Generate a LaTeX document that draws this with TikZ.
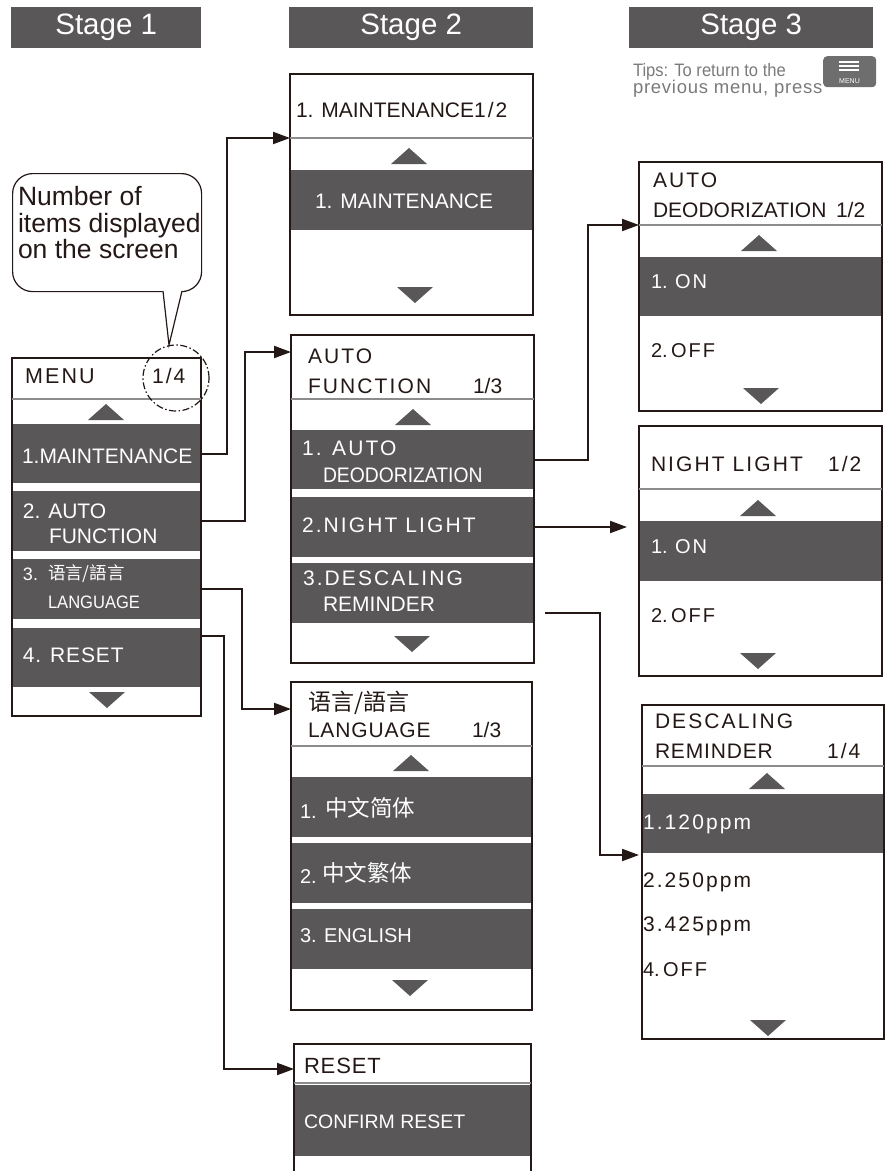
\documentclass[tikz,border=0pt]{standalone}
\usepackage{fontspec}
\setmainfont{Liberation Sans}
\newfontfamily\cjk{Noto Sans CJK SC}
\newfontfamily\spaced[LetterSpace=10]{Liberation Sans}
\newfontfamily\loose[LetterSpace=4]{Liberation Sans}
\newfontfamily\tight[FakeStretch=0.92]{Liberation Sans}
\usetikzlibrary{arrows.meta}
\definecolor{ink}{HTML}{231815}
\definecolor{bargray}{HTML}{595757}
\definecolor{rulegray}{HTML}{8C8C8C}
\definecolor{tipgray}{HTML}{7A7A7A}
\definecolor{btngray}{HTML}{6E6E6E}
\newcommand\fsz[1]{\fontsize{#1}{#1}\selectfont}
% triangles of the scroll marks, #1 = centre x, #2 = top y
\newcommand\uptri[2]{\fill[bargray] (#1-18,#2+16) -- (#1,#2) -- (#1+18,#2+16) -- cycle;}
\newcommand\dntri[2]{\fill[bargray] (#1-18,#2) -- (#1+18,#2) -- (#1,#2+16) -- cycle;}
\tikzset{
  stagebar/.style={fill=bargray, text=white, anchor=north west, minimum height=41pt,
    inner sep=0pt, font=\fsz{29.5}},
  screen/.style={draw=ink, line width=1.2pt, anchor=north west, inner sep=0pt, outer sep=0pt},
  entry/.style={fill=bargray, anchor=north west, inner sep=0pt, outer sep=0pt},
  txt/.style={anchor=base west, inner sep=0pt, outer sep=0pt, text=ink, font=\fsz{21}},
  wtxt/.style={txt, text=white},
  divider/.style={draw=rulegray, line width=1.6pt},
  conn/.style={draw=ink, line width=2pt, -{Triangle[length=17pt,width=12pt]}},
}

\begin{document}
\begin{tikzpicture}[x=1pt,y=-1pt]
  \useasboundingbox (0,0) rectangle (892,1171);

  % stage headers
  \node[stagebar, minimum width=190pt] (stage1) at (11,7) {Stage 1};
  \node[stagebar, minimum width=244pt] (stage2) at (289,7) {Stage 2};
  \node[stagebar, minimum width=244pt] (stage3) at (629,7) {Stage 3};

  % tips
  \node[txt, text=tipgray, font={\tight\fsz{18}}] (tip1) at (633,76) {Tips: To return to the};
  \node[txt, text=tipgray, font={\loose\fsz{18.5}}] (tip2) at (633,93) {previous menu, press};
  \node[fill=btngray, rounded corners=4pt, anchor=north west, minimum width=53pt,
        minimum height=31pt, inner sep=0pt] (menubtn) at (823,56) {};
  \draw[white, line width=1.3pt] (839,62) -- (859,62) (839,66) -- (859,66) (839,70) -- (859,70);
  \node[anchor=base, inner sep=0pt, text=white, font=\fsz{7}] (menubtnT) at (849.5,83) {MENU};

  % callout
  \node[draw=ink, line width=1.2pt, rounded corners=20pt, anchor=north west,
        minimum width=189pt, minimum height=118pt, inner sep=0pt] (callout) at (12,173) {};
  \fill[white] (162.5,289.4) -- (169,345) -- (182.5,289.4) -- cycle;
  \draw[ink, line width=1.2pt] (163,291) -- (169,345) -- (182,291);
  \node[txt, font=\fsz{26.5}] (callout1) at (18,205) {Number of};
  \node[txt, font=\fsz{26.5}] (callout2) at (18,232) {items displayed};
  \node[txt, font=\fsz{26.5}] (callout3) at (18,258) {on the screen};

  % stage 1: MENU
  \node[entry, minimum width=189pt, minimum height=59pt] (menu1) at (12,424) {};
  \node[entry, minimum width=189pt, minimum height=60pt] (menu2) at (12,491) {};
  \node[entry, minimum width=189pt, minimum height=60pt] (menu3) at (12,559) {};
  \node[entry, minimum width=189pt, minimum height=59pt] (menu4) at (12,628) {};
  \node[screen, minimum width=189pt, minimum height=358pt] (menu) at (12,358) {};
  \draw[divider] (12,399) -- (201,399);
  \uptri{106}{404} \dntri{107}{692}
  \node[txt, font={\spaced\fsz{21.5}}] (menuT) at (25,383) {MENU};
  \node[txt, font={\spaced\fsz{21}}] (menuN) at (152,383) {1/4};
  \node[wtxt] (menu1t) at (22,463) {1.MAINTENANCE};
  \node[wtxt] (menu2t) at (23,518) {2. AUTO};
  \node[wtxt] (menu2u) at (49,543) {FUNCTION};
  \node[wtxt, font=\fsz{18}] (menu3t) at (23,580) {3.};
  \node[wtxt, font={\cjk\fsz{17.5}}] (menu3c) at (48,579) {语言/語言};
  \node[wtxt, font={\tight\fsz{18}}] (menu3u) at (48,608) {LANGUAGE};
  \node[wtxt, font={\loose\fsz{21}}] (menu4t) at (23,662) {4. RESET};
  \draw[ink, line width=1.2pt, dash pattern=on 7pt off 2.5pt on 1.5pt off 2.5pt]
    (176,378) circle[radius=33pt];

  % stage 2: MAINTENANCE
  \node[entry, minimum width=243pt, minimum height=60pt] (maint1) at (290,170) {};
  \node[screen, minimum width=243pt, minimum height=241pt] (maint) at (290,74) {};
  \draw[divider] (290,138) -- (533,138);
  \uptri{409}{148} \dntri{415}{287}
  \node[txt] (maintT) at (296,117) {1. MAINTENANCE};
  \node[txt, font={\spaced\fsz{21}}] (maintN) at (474,117) {1/2};
  \node[wtxt] (maint1t) at (315,208) {1. MAINTENANCE};
  \coordinate (maintIn) at (290,138);

  % stage 2: AUTO FUNCTION
  \node[entry, minimum width=243pt, minimum height=59pt] (autofn1) at (291,430) {};
  \node[entry, minimum width=243pt, minimum height=60pt] (autofn2) at (291,497) {};
  \node[entry, minimum width=243pt, minimum height=60pt] (autofn3) at (291,563) {};
  \node[screen, minimum width=243pt, minimum height=328pt] (autofn) at (291,335) {};
  \draw[divider] (291,399) -- (534,399);
  \uptri{413}{409} \dntri{412}{636}
  \node[txt, font={\spaced\fsz{21}}] (autofnT) at (308,363) {AUTO};
  \node[txt, font={\spaced\fsz{21}}] (autofnU) at (308,393) {FUNCTION};
  \node[txt] (autofnN) at (473,393) {1/3};
  \node[wtxt, font={\spaced\fsz{21}}] (autofn1t) at (302,455) {1. AUTO};
  \node[wtxt, font={\tight\fsz{21}}] (autofn1u) at (323,482) {DEODORIZATION};
  \node[wtxt, font={\spaced\fsz{21}}] (autofn2t) at (302,532) {2.NIGHT LIGHT};
  \node[wtxt, font={\spaced\fsz{21}}] (autofn3t) at (303,585) {3.DESCALING};
  \node[wtxt] (autofn3u) at (323,611) {REMINDER};
  \coordinate (autofnIn) at (291,352);

  % stage 2: LANGUAGE
  \node[entry, minimum width=241pt, minimum height=60pt] (lang1) at (291,777) {};
  \node[entry, minimum width=241pt, minimum height=60pt] (lang2) at (291,843) {};
  \node[entry, minimum width=241pt, minimum height=60pt] (lang3) at (291,909) {};
  \node[screen, minimum width=241pt, minimum height=328pt] (lang) at (291,682) {};
  \draw[divider] (291,746) -- (532,746);
  \uptri{411}{755} \dntri{410}{980}
  \node[txt, font={\cjk\fsz{23}}] (langT) at (308,710) {语言/語言};
  \node[txt, font={\loose\fsz{21}}] (langU) at (308,737) {LANGUAGE};
  \node[txt] (langN) at (472,737) {1/3};
  \node[wtxt, font=\fsz{20}] (lang1t) at (300,818) {1.};
  \node[wtxt, font={\cjk\fsz{22.5}}] (lang1c) at (325,816) {中文简体};
  \node[wtxt, font=\fsz{20}] (lang2t) at (300,883) {2.};
  \node[wtxt, font={\cjk\fsz{22.5}}] (lang2c) at (322,881) {中文繁体};
  \node[wtxt, font=\fsz{20}] (lang3t) at (300,942) {3. ENGLISH};
  \coordinate (langIn) at (291,709);

  % stage 2: RESET
  \node[entry, minimum width=237pt, minimum height=71pt] (reset1) at (294,1085) {};
  \node[screen, minimum width=237pt, minimum height=140pt] (reset) at (294,1044) {};
  \draw[divider] (294,1083) -- (531,1083);
  \node[txt, font={\loose\fsz{22}}] (resetT) at (304,1073) {RESET};
  \node[wtxt, font=\fsz{19.5}] (reset1t) at (304,1128) {CONFIRM RESET};
  \coordinate (resetIn) at (294,1069);

  % stage 3: AUTO DEODORIZATION
  \node[entry, minimum width=243pt, minimum height=59pt] (deodor1) at (639,257) {};
  \node[screen, minimum width=243pt, minimum height=249pt] (deodor) at (639,162) {};
  \draw[divider] (639,225) -- (882,225);
  \uptri{759}{235} \dntri{761}{388}
  \node[txt, font={\spaced\fsz{21}}] (deodorT) at (653,187) {AUTO};
  \node[txt] (deodorU) at (653,217) {DEODORIZATION};
  \node[txt] (deodorN) at (836,217) {1/2};
  \node[wtxt, font=\fsz{20}] (deodor1t) at (651,288) {1. {\spaced ON}};
  \node[txt, font=\fsz{20}] (deodor2t) at (651,357) {2.\,{\spaced OFF}};
  \coordinate (deodorIn) at (639,225);

  % stage 3: NIGHT LIGHT
  \node[entry, minimum width=243pt, minimum height=60pt] (night1) at (639,521) {};
  \node[screen, minimum width=243pt, minimum height=250pt] (night) at (639,426) {};
  \draw[divider] (639,489) -- (882,489);
  \uptri{758}{500} \dntri{758}{653}
  \node[txt, font={\spaced\fsz{21}}] (nightT) at (651,471) {NIGHT LIGHT};
  \node[txt, font={\spaced\fsz{21}}] (nightN) at (828,471) {1/2};
  \node[wtxt, font=\fsz{20}] (night1t) at (651,553) {1. {\spaced ON}};
  \node[txt, font=\fsz{20}] (night2t) at (651,622) {2.\,{\spaced OFF}};

  % stage 3: DESCALING REMINDER
  \node[entry, minimum width=242pt, minimum height=59pt] (descale1) at (642,794) {};
  \node[screen, minimum width=242pt, minimum height=334pt] (descale) at (642,705) {};
  \draw[divider] (642,766) -- (884,766);
  \uptri{767}{773} \dntri{768}{1020}
  \node[txt, font={\spaced\fsz{21}}] (descaleT) at (655,728) {DESCALING};
  \node[txt, font={\loose\fsz{21}}] (descaleU) at (655,758) {REMINDER};
  \node[txt, font={\spaced\fsz{21}}] (descaleN) at (827,758) {1/4};
  \node[wtxt, font={\spaced\fsz{21}}] (descale1t) at (643,829) {1.120ppm};
  \node[txt, font={\spaced\fsz{21}}] (descale2t) at (643,887) {2.250ppm};
  \node[txt, font={\spaced\fsz{21}}] (descale3t) at (643,931) {3.425ppm};
  \node[txt, font=\fsz{20}] (descale4t) at (643,976) {4.\,{\spaced OFF}};
  \coordinate (descaleIn) at (639,855);

  % connectors
  \draw[conn] (menu1.east) -- ++(26,0) |- (maintIn);
  \draw[conn] (menu2.east) -- ++(44,0) |- (autofnIn);
  \draw[conn] (menu3.east) -- ++(41,0) |- (langIn);
  \draw[conn] ([yshift=-8pt]menu4.north east) -- ++(23,0) |- (resetIn);
  \draw[conn] (autofn1.east) -- ++(54,0) |- (deodorIn);
  \draw[conn] (autofn2.east) -- ++(93,0);
  \draw[conn] ([xshift=11pt,yshift=10pt]autofn3.south east) -- ++(55,0) |- (descaleIn);
\end{tikzpicture}
\end{document}
